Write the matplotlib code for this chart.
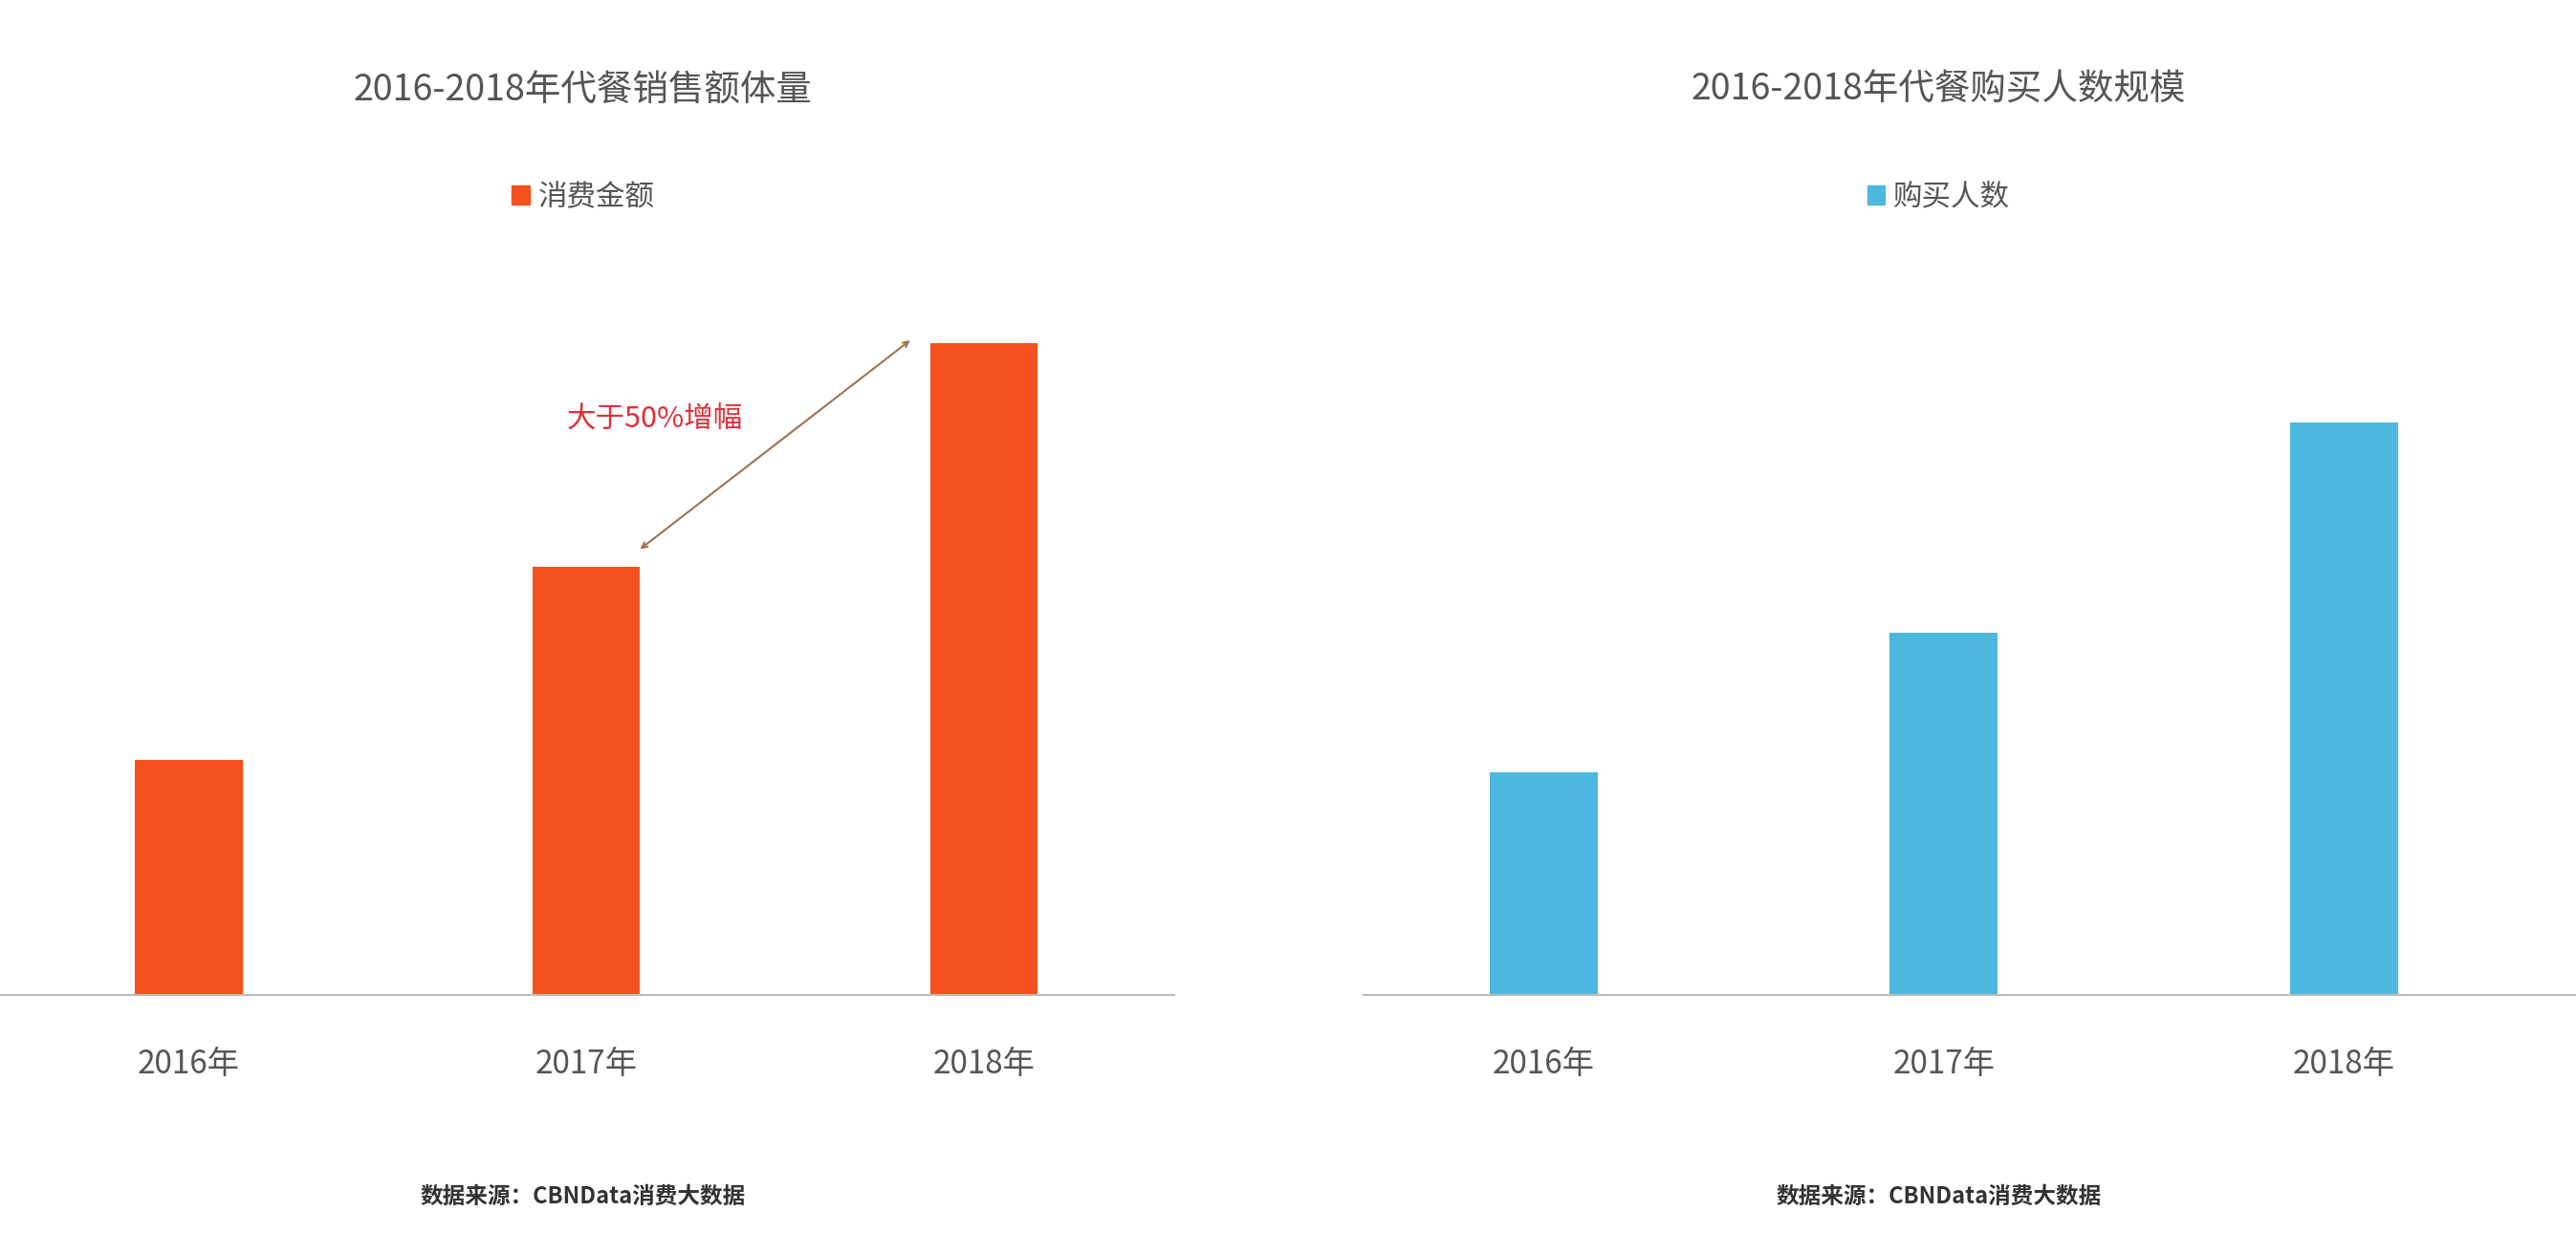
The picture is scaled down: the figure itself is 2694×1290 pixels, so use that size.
import matplotlib
matplotlib.use("Agg")
import matplotlib.pyplot as plt
from matplotlib.patches import Patch

plt.rcParams['font.family'] = ['Noto Sans CJK SC', 'DejaVu Sans']

years = ["2016年", "2017年", "2018年"]
sales = [143, 260, 396]
buyers = [135, 220, 348]

W, H = 1568, 750  # reference display grid
fig = plt.figure(figsize=(26.94, 12.90), dpi=100)

def ax_at(x0, x1):
    return fig.add_axes([x0 / W, 1 - 605 / H, (x1 - x0) / W, 505 / H])

orange = "#F4511E"
blue = "#4DB8DE"
grey = "#555555"

def style(ax, xlim):
    ax.set_xlim(*xlim)
    ax.set_ylim(0, 505)
    for s in ["top", "right", "left"]:
        ax.spines[s].set_visible(False)
    ax.spines["bottom"].set_color("#bbbbbb")
    ax.spines["bottom"].set_linewidth(1.5)
    ax.set_yticks([])
    ax.set_xticks(range(3))
    ax.set_xticklabels(years, fontsize=24, color=grey)
    ax.tick_params(axis="x", length=0, pad=40)

ax1 = ax_at(0, 715)
ax1.bar(range(3), sales, width=0.27, color=orange)
style(ax1, (-0.475, 2.48))
ax1.annotate("", xy=(1.82, sales[2] + 3), xytext=(1.13, sales[1] + 10),
             arrowprops=dict(arrowstyle="<->", color="#a07050", lw=1.5))
ax1.text(0.95, 350, "大于50%增幅", fontsize=22, color="#e0303a", ha="left", va="center")

ax2 = ax_at(830, 1568)
ax2.bar(range(3), buyers, width=0.27, color=blue)
style(ax2, (-0.45, 2.58))

fig.text(355 / W, 1 - 55 / H, "2016-2018年代餐销售额体量", fontsize=27, color=grey, ha="center", va="center")
fig.text(1180 / W, 1 - 55 / H, "2016-2018年代餐购买人数规模", fontsize=27, color=grey, ha="center", va="center")

fig.legend(handles=[Patch(color=orange, label="消费金额")], loc="center",
           bbox_to_anchor=(355 / W, 1 - 120 / H), frameon=False, fontsize=22,
           handlelength=0.6, handleheight=0.6, handletextpad=0.3, labelcolor=grey)
fig.legend(handles=[Patch(color=blue, label="购买人数")], loc="center",
           bbox_to_anchor=(1180 / W, 1 - 120 / H), frameon=False, fontsize=22,
           handlelength=0.6, handleheight=0.6, handletextpad=0.3, labelcolor=grey)

fig.text(355 / W, 1 - 728 / H, "数据来源：CBNData消费大数据", fontsize=17, color="#333333",
         ha="center", va="center", fontweight="bold")
fig.text(1180 / W, 1 - 728 / H, "数据来源：CBNData消费大数据", fontsize=17, color="#333333",
         ha="center", va="center", fontweight="bold")

fig.savefig("out.png", dpi=100)
